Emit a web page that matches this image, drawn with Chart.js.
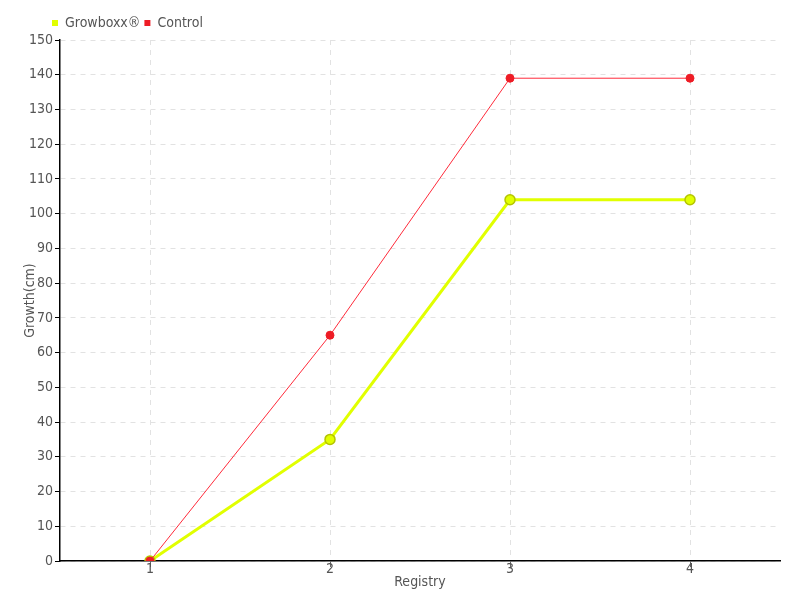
<!DOCTYPE html>
<html>
<head>
<meta charset="utf-8">
<script src="https://cdn.jsdelivr.net/npm/chart.js@4"></script>
<style>
  html, body { margin: 0; padding: 0; background: #fff; }
  #wrap { width: 800px; height: 600px; }
</style>
</head>
<body>
<div id="wrap"><canvas id="growthChart" width="800" height="600"></canvas></div>
<script>
// registry numbers along the x axis
const registries = ["1", "2", "3", "4"];

// growth in cm per registry
const growboxxValues = [0, 35, 104, 104];
const controlValues = [0, 65, 139, 139];

const seriesNames = ["Growboxx®", "Control"];

Chart.defaults.font.family = "'DejaVu Sans Condensed', 'Liberation Sans Narrow', sans-serif";
Chart.defaults.font.size = 14;
Chart.defaults.color = "#555";

// push the legend to the right so it sits above the y axis like the original
const legendShift = {
  id: "legendShift",
  afterLayout(chart) {
    chart.legend.left += 26;
    chart.legend.right += 26;
  },
};

// y axis column has a fixed width so the plot starts at x=60
const fixedYWidth = (axis) => { axis.width = 38; };

new Chart(document.getElementById("growthChart"), {
  type: "line",
  data: {
    labels: registries,
    datasets: [
      {
        label: seriesNames[0],
        data: growboxxValues,
        borderColor: "#e1ff00",
        backgroundColor: "#e1ff00",
        borderWidth: 3,
        pointRadius: 5,
        pointBackgroundColor: "#e1ff00",
        pointBorderColor: "#b5c400",
        pointBorderWidth: 1.5,
        tension: 0,
        order: 1,
      },
      {
        label: seriesNames[1],
        data: controlValues,
        borderColor: "#ff2a3a",
        backgroundColor: "#ee1c25",
        borderWidth: 1,
        pointRadius: 4,
        pointBackgroundColor: "#ee1c25",
        pointBorderColor: "#ee1c25",
        pointBorderWidth: 1,
        tension: 0,
        order: 0,
      },
    ],
  },
  plugins: [legendShift],
  options: {
    responsive: false,
    animation: false,
    layout: { padding: { left: 22, right: 20, top: 12, bottom: 11 } },
    plugins: {
      legend: {
        position: "top",
        align: "start",
        labels: {
          boxWidth: 6,
          boxHeight: 6,
          padding: 4,
          color: "#555",
          font: { size: 14 },
          sort: (a, b) => a.datasetIndex - b.datasetIndex,
          generateLabels(chart) {
            // plain filled squares, no outline
            return Chart.defaults.plugins.legend.labels.generateLabels(chart).map((item) => {
              item.lineWidth = 0;
              item.fillStyle = chart.data.datasets[item.datasetIndex].pointBackgroundColor;
              return item;
            });
          },
        },
      },
      tooltip: { enabled: false },
    },
    scales: {
      x: {
        offset: true,
        grid: {
          color: "#e2e2e2",
          tickColor: "#666",
          tickLength: 6,
          offset: false,
        },
        border: { color: "#000", width: 1.5, dash: [5, 5] },
        ticks: { padding: -5, font: { size: 14, lineHeight: 1 } },
        title: { display: true, text: "Registry", font: { size: 14, lineHeight: 1 }, padding: { top: 4, bottom: 0 } },
      },
      y: {
        min: 0,
        max: 150,
        afterFit: fixedYWidth,
        grid: {
          color: "#e2e2e2",
          tickColor: "#000",
          tickLength: 5,
        },
        border: { color: "#000", width: 1.5, dash: [5, 5] },
        ticks: { stepSize: 10, padding: 2, font: { size: 14 } },
        title: { display: true, text: "Growth(cm)", font: { size: 14 }, padding: { top: 0, bottom: 2 } },
      },
    },
  },
});
</script>
</body>
</html>
